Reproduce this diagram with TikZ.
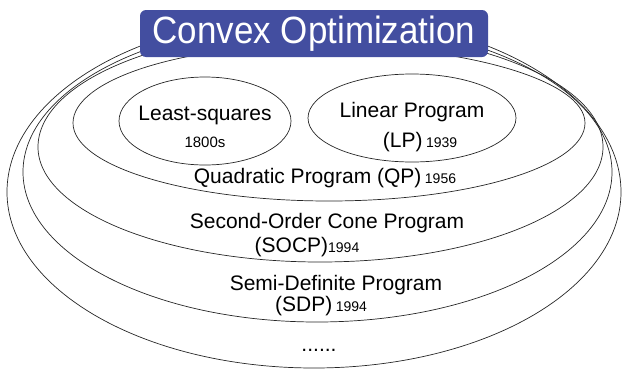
\documentclass[tikz,border=0pt]{standalone}
\usepackage{graphicx}
\usepackage{fontspec}
\setmainfont{Liberation Sans}
\definecolor{titleblue}{RGB}{67,78,160}
% egg-shaped ring through left, top, right, bottom points
\newcommand{\ringpath}[8]{%
  \draw[ring] (#1,#2) .. controls (#1,{#2-0.5523*(#2-#4)}) and ({#3-0.5523*(#3-#1)},#4) .. (#3,#4)
    .. controls ({#3+0.5523*(#5-#3)},#4) and (#5,{#6-0.5523*(#6-#4)}) .. (#5,#6)
    .. controls (#5,{#6+0.5523*(#8-#6)}) and ({#7+0.5523*(#5-#7)},#8) .. (#7,#8)
    .. controls ({#7-0.5523*(#7-#1)},#8) and (#1,{#2+0.5523*(#8-#2)}) .. cycle;}
\begin{document}
\begin{tikzpicture}[x=1pt,y=-1pt,
  ring/.style={draw=black!85, line width=0.7pt},
  big/.style={font=\fontsize{21}{22}\selectfont, inner sep=0pt}]
\useasboundingbox (0,0) rectangle (624,370);
% outer rings
\ringpath{7}{192}{314}{15}{621}{192}{314}{368}
\ringpath{23}{172}{314}{22}{612}{172}{317}{322}
\ringpath{38}{147}{314}{30}{603}{147}{320}{262}
\ringpath{73}{123}{314}{45}{585}{123}{329}{201}
\draw[ring] (205,121) ellipse [x radius=86, y radius=44];
\draw[ring] (412,118) ellipse [x radius=104, y radius=44];
% title
\node[fill=titleblue, rounded corners=6pt, minimum width=348pt, minimum height=47pt, inner sep=0pt,
  text=white, font=\fontsize{38}{40}\selectfont] (title) at (314,33.5) {\scalebox{0.92}[1]{Convex Optimization}};
% labels
\node[big] (ls) at (205,115) {Least-squares};
\node[big,font=\fontsize{15}{16}\selectfont] (lsy) at (205,142) {1800s};
\node[big] (lp) at (412,112) {Linear Program};
\node[big] (lpa) at (420,142) {(LP)\,{\fontsize{14}{16}\selectfont 1939}};
\node[big] (qp) at (325,178) {Quadratic Program (QP)\,{\fontsize{14}{16}\selectfont 1956}};
\node[big] (socp) at (327,223) {Second-Order Cone Program};
\node[big] (socpy) at (307,247) {(SOCP){\fontsize{14}{16}\selectfont 1994}};
\node[big] (sdp) at (336,285) {Semi-Definite Program};
\node[big] (sdpy) at (321,306) {(SDP)\,{\fontsize{14}{16}\selectfont 1994}};
\node[big] (dots) at (319,350) {......};
\end{tikzpicture}
\end{document}
